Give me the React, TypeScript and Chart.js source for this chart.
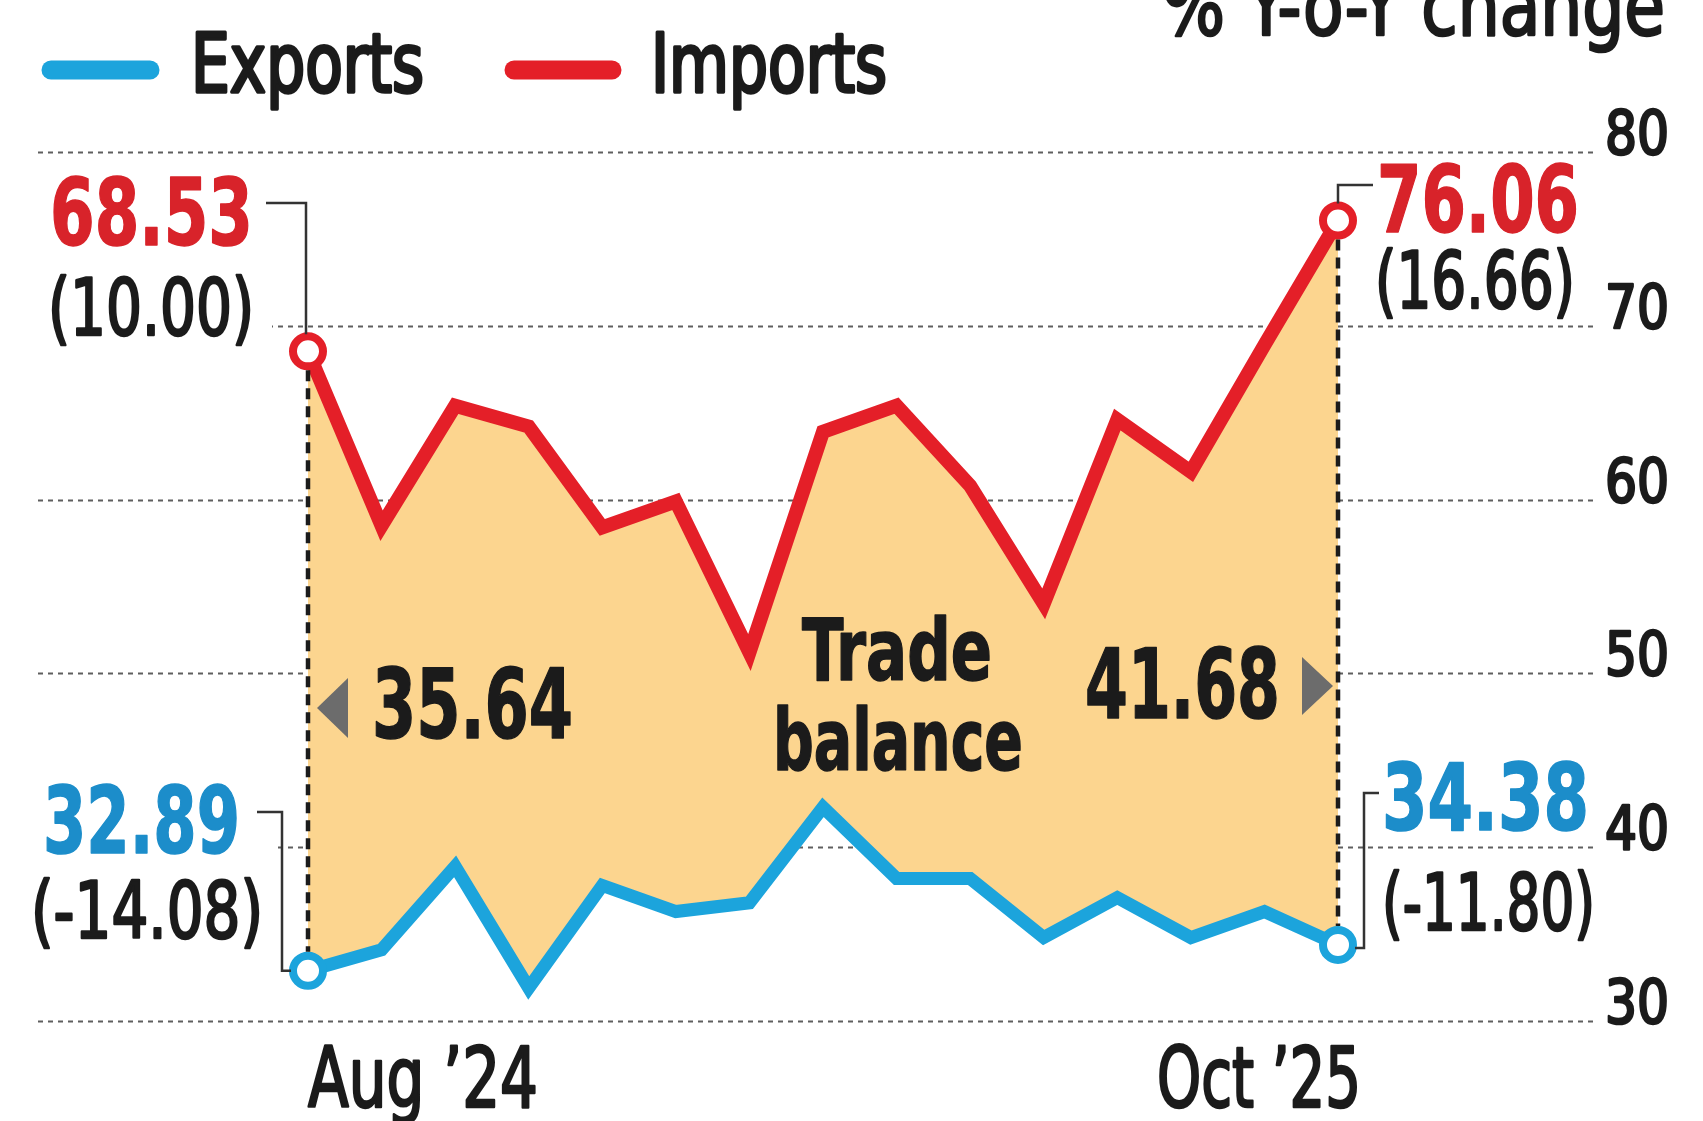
import React, { useEffect, useRef } from "react";
import { Chart, registerables } from "chart.js";

Chart.register(...registerables);

// ---------------- data ----------------
const months = [
  "Aug '24", "Sep '24", "Oct '24", "Nov '24", "Dec '24", "Jan '25", "Feb '25", "Mar '25",
  "Apr '25", "May '25", "Jun '25", "Jul '25", "Aug '25", "Sep '25", "Oct '25",
];
const exportsValues = [32.89, 34.1, 38.9, 31.9, 37.8, 36.3, 36.8, 42.3, 38.2, 38.2, 34.8, 37.1, 34.8, 36.3, 34.38];
const importsValues = [68.53, 58.5, 65.4, 64.2, 58.4, 59.9, 51.2, 63.9, 65.4, 60.8, 54.0, 64.6, 61.6, 68.9, 76.06];
const exportsYoY = [-14.08, -11.8]; // first month, last month
const importsYoY = [10.0, 16.66]; // first month, last month
const yTicks = [30, 40, 50, 60, 70, 80];
const xTickLabels = ["Aug ’24", "Oct ’25"];
const seriesNames = ["Exports", "Imports"];
const unitLabel = "% Y-o-Y change";
const balanceLabel = ["Trade", "balance"];

// ---------------- styles ----------------
const BLUE = "#1ca4dc";
const BLUE_TEXT = "#1c8dca";
const RED = "#e41f28";
const RED_TEXT = "#d8232a";
const FILL = "#fcd58f";
const INK = "#1b1b1b";
const FONT =
  "'Liberation Sans Narrow', 'Arial Narrow', 'DejaVu Sans Condensed', 'Roboto Condensed', 'Liberation Sans', sans-serif";

type TextOpts = {
  size: number;
  weight?: string;
  color: string;
  width: number;
  align?: "left" | "right" | "center";
  stroke?: number;
};

function fitText(ctx: CanvasRenderingContext2D, text: string, x: number, y: number, o: TextOpts) {
  ctx.save();
  ctx.font = `${o.weight || "normal"} ${o.size}px ${FONT}`;
  ctx.fillStyle = o.color;
  ctx.textBaseline = "alphabetic";
  ctx.textAlign = "left";
  const w = ctx.measureText(text).width || 1;
  const sx = o.width / w;
  const align = o.align || "left";
  const left = align === "left" ? x : align === "right" ? x - o.width : x - o.width / 2;
  ctx.translate(left, y);
  ctx.scale(sx, 1);
  ctx.fillText(text, 0, 0);
  if (o.stroke) {
    ctx.strokeStyle = o.color;
    ctx.lineWidth = o.stroke;
    ctx.lineJoin = "round";
    ctx.strokeText(text, 0, 0);
  }
  ctx.restore();
}

function polyline(ctx: CanvasRenderingContext2D, pts: number[][], color: string, width: number) {
  ctx.save();
  ctx.strokeStyle = color;
  ctx.lineWidth = width;
  ctx.lineJoin = "miter";
  ctx.beginPath();
  pts.forEach((p, i) => (i === 0 ? ctx.moveTo(p[0], p[1]) : ctx.lineTo(p[0], p[1])));
  ctx.stroke();
  ctx.restore();
}

const POINT_R = 15;
const POINT_BW = 8;
const REG = 2.6; // extra stroke to give regular text a medium weight

const decorPlugin = {
  id: "decor",
  beforeDatasetsDraw(chart: any) {
    const ctx: CanvasRenderingContext2D = chart.ctx;
    const ys = chart.scales.y;
    // dotted gridlines
    ctx.save();
    ctx.strokeStyle = "#5e5e5e";
    ctx.lineWidth = 2;
    ctx.setLineDash([5, 5]);
    for (const t of yTicks) {
      const py = Math.round(ys.getPixelForValue(t)) + 0.5;
      ctx.beginPath();
      ctx.moveTo(38, py);
      ctx.lineTo(1598, py);
      ctx.stroke();
    }
    ctx.restore();
    // tick labels (right side, sitting on gridline)
    for (const t of yTicks) {
      const py = ys.getPixelForValue(t);
      fitText(ctx, String(t), 1669, py + 2, { size: 61, color: INK, width: 64, align: "right", stroke: REG });
    }
  },
  afterDatasetsDraw(chart: any) {
    const ctx: CanvasRenderingContext2D = chart.ctx;
    const xs = chart.scales.x;
    const ys = chart.scales.y;
    const n = months.length - 1;
    const x0 = xs.getPixelForValue(0);
    const xN = xs.getPixelForValue(n);
    const iy0 = ys.getPixelForValue(importsValues[0]);
    const iyN = ys.getPixelForValue(importsValues[n]);
    const ey0 = ys.getPixelForValue(exportsValues[0]);
    const eyN = ys.getPixelForValue(exportsValues[n]);
    const outer = POINT_R + POINT_BW / 2;

    // dashed verticals between the end points
    ctx.save();
    ctx.strokeStyle = INK;
    ctx.lineWidth = 4.5;
    ctx.setLineDash([11, 7]);
    ctx.beginPath();
    ctx.moveTo(x0, iy0 + outer);
    ctx.lineTo(x0, ey0 - outer);
    ctx.moveTo(xN, iyN + outer);
    ctx.lineTo(xN, eyN - outer);
    ctx.stroke();
    ctx.restore();

    // white boxes behind left labels
    ctx.save();
    ctx.fillStyle = "#ffffff";
    ctx.fillRect(26, 165, 246, 195);
    ctx.fillRect(16, 770, 262, 190);
    ctx.restore();

    // legend
    ctx.save();
    ctx.lineCap = "round";
    ctx.lineWidth = 19;
    ctx.strokeStyle = BLUE;
    ctx.beginPath();
    ctx.moveTo(51, 70);
    ctx.lineTo(150, 70);
    ctx.stroke();
    ctx.strokeStyle = RED;
    ctx.beginPath();
    ctx.moveTo(514, 70);
    ctx.lineTo(612, 70);
    ctx.stroke();
    ctx.restore();
    fitText(ctx, seriesNames[0], 191, 92, { size: 82, color: INK, width: 233, stroke: 3.5 });
    fitText(ctx, seriesNames[1], 651, 92, { size: 82, color: INK, width: 236, stroke: 3.5 });
    fitText(ctx, unitLabel, 1162, 35, { size: 82, color: INK, width: 503, stroke: REG });

    // leader lines
    const LC = "#333333";
    polyline(ctx, [[x0 - 42, 203], [x0 - 2, 203], [x0 - 2, iy0 - outer + 2]], LC, 2.5);
    polyline(ctx, [[xN, iyN - outer + 2], [xN, 185], [xN + 35, 185]], LC, 2.5);
    polyline(ctx, [[x0 - 51, 812], [x0 - 26, 812], [x0 - 26, ey0], [x0 - outer + 2, ey0]], LC, 2.5);
    polyline(ctx, [[xN + outer - 2, eyN + 3], [xN + 26, eyN + 3], [xN + 26, 793], [xN + 41, 793]], LC, 2.5);

    // end value labels
    fitText(ctx, importsValues[0].toFixed(2), 50, 245, { size: 93, weight: "bold", color: RED_TEXT, width: 203, stroke: 1.5 });
    fitText(ctx, `(${importsYoY[0].toFixed(2)})`, 48, 335, { size: 79, color: INK, width: 206, stroke: REG });
    fitText(ctx, importsValues[n].toFixed(2), 1377, 232, { size: 93, weight: "bold", color: RED_TEXT, width: 202, stroke: 1.5 });
    fitText(ctx, `(${importsYoY[1].toFixed(2)})`, 1375, 308, { size: 79, color: INK, width: 200, stroke: REG });
    fitText(ctx, exportsValues[0].toFixed(2), 43, 853, { size: 93, weight: "bold", color: BLUE_TEXT, width: 197, stroke: 1.5 });
    fitText(ctx, `(${exportsYoY[0].toFixed(2)})`, 31, 938, { size: 79, color: INK, width: 232, stroke: REG });
    fitText(ctx, exportsValues[n].toFixed(2), 1382, 830, { size: 93, weight: "bold", color: BLUE_TEXT, width: 207, stroke: 1.5 });
    fitText(ctx, `(${exportsYoY[1].toFixed(2)})`, 1382, 930, { size: 79, color: INK, width: 213, stroke: REG });

    // trade balance
    const tb0 = (importsValues[0] - exportsValues[0]).toFixed(2);
    const tbN = (importsValues[n] - exportsValues[n]).toFixed(2);
    ctx.save();
    ctx.fillStyle = "#6c6c6c";
    ctx.beginPath();
    ctx.moveTo(x0 + 9, 708);
    ctx.lineTo(x0 + 40, 678);
    ctx.lineTo(x0 + 40, 738);
    ctx.closePath();
    ctx.fill();
    ctx.beginPath();
    ctx.moveTo(xN - 5, 686);
    ctx.lineTo(xN - 36, 657);
    ctx.lineTo(xN - 36, 715);
    ctx.closePath();
    ctx.fill();
    ctx.restore();
    fitText(ctx, tb0, 372, 738, { size: 97, weight: "bold", color: INK, width: 201, stroke: 1.5 });
    fitText(ctx, tbN, 1085, 718, { size: 97, weight: "bold", color: INK, width: 195, stroke: 1.5 });
    fitText(ctx, balanceLabel[0], 897, 680, { size: 86, weight: "bold", color: INK, width: 190, align: "center", stroke: 1.5 });
    fitText(ctx, balanceLabel[1], 898, 770, { size: 86, weight: "bold", color: INK, width: 250, align: "center", stroke: 1.5 });

    // x labels
    fitText(ctx, xTickLabels[0], x0, 1107, { size: 83, color: INK, width: 230, stroke: REG });
    fitText(ctx, xTickLabels[1], xN + 23, 1107, { size: 83, color: INK, width: 204, align: "right", stroke: REG });
  },
};

export default function App() {
  const ref = useRef<HTMLCanvasElement | null>(null);
  useEffect(() => {
    document.body.style.margin = "0";
    document.body.style.background = "#ffffff";
    const canvas = ref.current;
    if (!canvas) return;
    const ends = months.map((_, i) => (i === 0 || i === months.length - 1 ? POINT_R : 0));
    const chart = new Chart(canvas, {
      type: "line",
      data: {
        labels: months,
        datasets: [
          {
            label: seriesNames[0],
            data: exportsValues,
            borderColor: BLUE,
            borderWidth: 13,
            borderJoinStyle: "miter",
            pointRadius: ends,
            pointBorderWidth: POINT_BW,
            pointBackgroundColor: "#ffffff",
            pointBorderColor: BLUE,
            fill: false,
            clip: false,
            tension: 0,
          },
          {
            label: seriesNames[1],
            data: importsValues,
            borderColor: RED,
            borderWidth: 14,
            borderJoinStyle: "miter",
            pointRadius: ends,
            pointBorderWidth: POINT_BW,
            pointBackgroundColor: "#ffffff",
            pointBorderColor: RED,
            backgroundColor: FILL,
            fill: "-1",
            clip: false,
            tension: 0,
          },
        ],
      },
      options: {
        responsive: false,
        animation: false,
        events: [],
        layout: { padding: { left: 308, right: 365, top: 152, bottom: 100 } },
        scales: {
          x: { type: "category", display: false, offset: false },
          y: { type: "linear", display: false, min: 30, max: 80 },
        },
        plugins: {
          legend: { display: false },
          tooltip: { enabled: false },
          title: { display: false },
        },
      },
      plugins: [decorPlugin],
    } as any);
    return () => chart.destroy();
  }, []);
  return (
    <div style={{ width: 1703, height: 1121, background: "#ffffff" }}>
      <canvas ref={ref} width={1703} height={1121} style={{ display: "block", width: 1703, height: 1121 }} />
    </div>
  );
}
